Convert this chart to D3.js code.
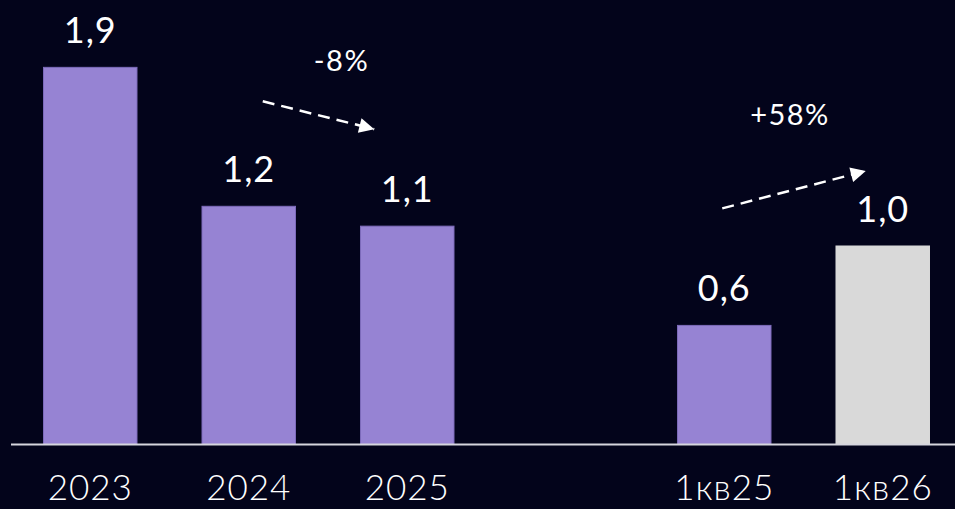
<!DOCTYPE html>
<html>
<head>
<meta charset="utf-8">
<script src="https://cdn.jsdelivr.net/npm/d3@7/dist/d3.min.js"></script>
<style>
  html, body { margin: 0; padding: 0; background: #03041b; }
  svg { display: block; }
  text { font-family: "Lato", "Noto Sans", sans-serif; fill: #ffffff; }
</style>
</head>
<body>
<svg id="chart" width="955" height="509"></svg>
<script>
// Annual totals, then first-quarter comparison
const categories = ["2023", "2024", "2025", "1кв25", "1кв26"];
const values = [1.9, 1.2, 1.1, 0.6, 1.0];
const valueLabels = ["1,9", "1,2", "1,1", "0,6", "1,0"];
const barKinds = ["fact", "fact", "fact", "fact", "highlight"];

// Change annotations between pairs of bars
const changeFrom = ["2024", "1кв25"];
const changeTo = ["2025", "1кв26"];
const changeLabels = ["-8%", "+58%"];

const width = 955, height = 509;
const baseline = 444.5;
const svg = d3.select("#chart");

svg.append("rect").attr("width", width).attr("height", height).attr("fill", "#03041b");

// One empty slot separates the yearly block from the quarterly block
const GAP = "__gap__";
const slots = [...categories.slice(0, 3), GAP, ...categories.slice(3)];

const x = d3.scaleBand()
  .domain(slots)
  .range([11, 962])
  .paddingInner(0.41)
  .paddingOuter(0.205);

const y = d3.scaleLinear()
  .domain([0, 2.2])
  .range([baseline, baseline - 2.2 * 198.5]);

const colors = { fact: "#9683d3", highlight: "#d9d9d9" };
const strokes = { fact: "#7d6bbb", highlight: "#d9d9d9" };

const data = categories.map((c, i) => ({ cat: c, value: values[i], label: valueLabels[i], kind: barKinds[i] }));

// Bars
svg.append("g").selectAll("rect")
  .data(data)
  .join("rect")
  .attr("x", d => x(d.cat))
  .attr("y", d => y(d.value))
  .attr("width", x.bandwidth())
  .attr("height", d => baseline - y(d.value))
  .attr("fill", d => colors[d.kind])
  .attr("stroke", d => strokes[d.kind])
  .attr("stroke-width", 1);

// Value labels
svg.append("g").selectAll("text")
  .data(data)
  .join("text")
  .attr("x", d => x(d.cat) + x.bandwidth() / 2)
  .attr("y", d => y(d.value) - 24)
  .attr("text-anchor", "middle")
  .attr("font-size", 36)
  .attr("letter-spacing", 1)
  .text(d => d.label);

// Baseline axis with category labels
const axis = d3.axisBottom(x)
  .tickValues(categories)
  .tickSize(0)
  .tickPadding(31);

const axisG = svg.append("g")
  .attr("transform", `translate(0,${baseline})`)
  .call(axis);

axisG.select(".domain")
  .attr("d", `M11,0H${width}`)
  .attr("stroke", "#d6d6de")
  .attr("stroke-width", 2);

axisG.selectAll(".tick text")
  .attr("font-size", 35)
  .attr("font-weight", 300)
  .attr("letter-spacing", 1)
  .attr("dy", "0.71em")
  .attr("fill", "#ffffff")
  .style("font-family", "Lato, 'Noto Sans', sans-serif");

// Dashed change arrows
const defs = svg.append("defs");
defs.append("marker")
  .attr("id", "arrowHead")
  .attr("viewBox", "0 0 10 10")
  .attr("refX", 10)
  .attr("refY", 5)
  .attr("markerUnits", "userSpaceOnUse")
  .attr("markerWidth", 18)
  .attr("markerHeight", 15)
  .attr("orient", "auto")
  .append("path")
  .attr("d", "M0,0L10,5L0,10Z")
  .attr("fill", "#ffffff");

const byCat = Object.fromEntries(data.map(d => [d.cat, d]));
const arrows = changeLabels.map((lab, i) => {
  const a = byCat[changeFrom[i]], b = byCat[changeTo[i]];
  const ax = x(a.cat) + x.bandwidth() / 2, bx = x(b.cat) + x.bandwidth() / 2;
  const up = b.value > a.value;
  return {
    label: lab,
    x1: ax + (up ? -2 : 14),
    y1: y(a.value) - (up ? 117 : 105),
    x2: bx - (up ? 17 : 33),
    y2: y(b.value) - (up ? 75 : 97),
    up
  };
});

const arrowG = svg.append("g");
arrowG.selectAll("line")
  .data(arrows)
  .join("line")
  .attr("x1", d => d.x1)
  .attr("y1", d => d.y1)
  .attr("x2", d => d.x2)
  .attr("y2", d => d.y2)
  .attr("stroke", "#ffffff")
  .attr("stroke-width", 2.5)
  .attr("stroke-dasharray", "12,7")
  .attr("marker-end", "url(#arrowHead)");

arrowG.selectAll("text")
  .data(arrows)
  .join("text")
  .attr("x", d => (d.x1 + d.x2) / 2 + (d.up ? -4 : 23))
  .attr("y", d => Math.min(d.y1, d.y2) - (d.up ? 46 : 30))
  .attr("text-anchor", "middle")
  .attr("font-size", 29)
  .attr("letter-spacing", 1.5)
  .text(d => d.label);
</script>
</body>
</html>
